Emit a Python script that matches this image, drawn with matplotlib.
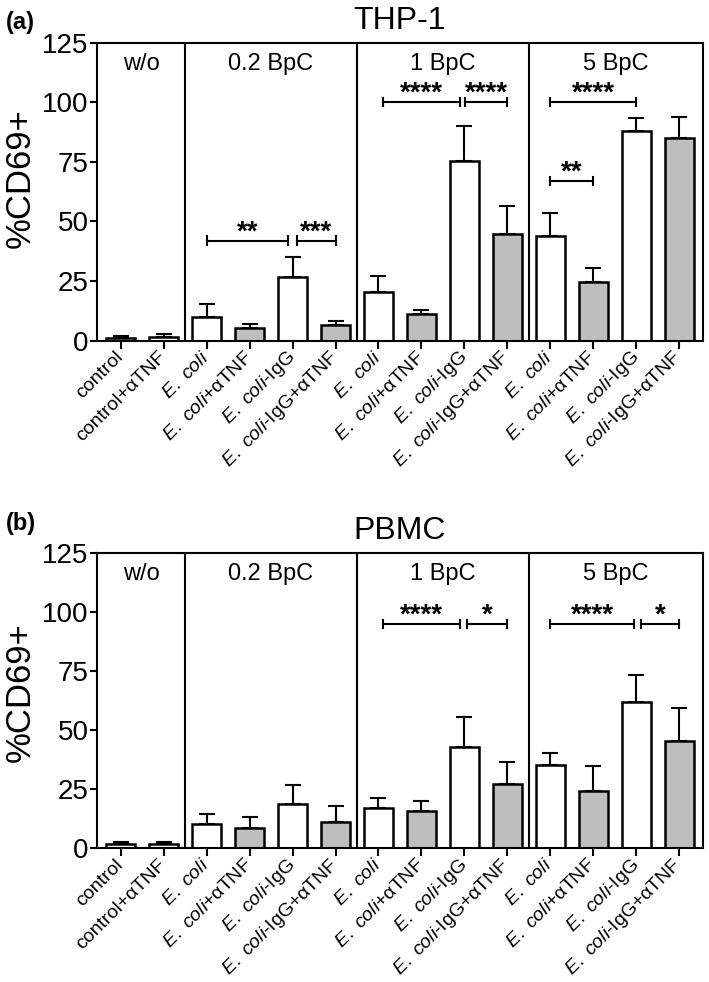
import matplotlib
matplotlib.use("Agg")
import matplotlib.pyplot as plt
import numpy as np

plt.rcParams['font.family'] = ['Liberation Sans', 'DejaVu Sans']
plt.rcParams['mathtext.fontset'] = 'custom'
plt.rcParams['mathtext.rm'] = 'Liberation Sans'
plt.rcParams['mathtext.it'] = 'Liberation Sans:italic'

# Data
EC = r"$\mathit{E.\ coli}$"
labels = ["control", "control+αTNF",
          EC, EC + "+αTNF", EC + "-IgG", EC + "-IgG+αTNF",
          EC, EC + "+αTNF", EC + "-IgG", EC + "-IgG+αTNF",
          EC, EC + "+αTNF", EC + "-IgG", EC + "-IgG+αTNF"]
fills = ["white", "white"] + ["white", "#bebebe"] * 6
sections = ["w/o", "0.2 BpC", "1 BpC", "5 BpC"]
section_bounds = [1.5, 5.5, 9.5]

thp1_mean = [1.2, 1.5, 9.8, 5.3, 26.7, 6.6, 20.3, 11.1, 75.4, 44.8, 43.9, 24.8, 87.8, 85.0]
thp1_err = [0.9, 1.2, 5.5, 1.8, 8.3, 1.7, 7.0, 1.7, 14.7, 11.6, 9.5, 5.6, 5.5, 8.7]
pbmc_mean = [1.7, 1.7, 10.1, 8.5, 18.9, 11.0, 17.2, 15.8, 42.8, 27.2, 35.4, 24.4, 61.7, 45.2]
pbmc_err = [1.1, 1.1, 4.4, 4.9, 7.7, 6.9, 3.9, 4.3, 12.6, 9.4, 5.0, 10.4, 11.7, 14.3]

# significance brackets: (x1, x2, y, stars)
thp1_sig = [(2, 3.9, 42, "**"), (4.1, 5, 42, "***"),
            (6.1, 7.9, 100, "****"), (8.02, 9, 100, "****"),
            (10, 12, 100, "****"), (10, 11, 67, "**")]
pbmc_sig = [(6.1, 7.9, 95, "****"), (8.05, 9, 95, "*"),
            (10, 11.95, 95, "****"), (12.1, 13, 95, "*")]

fig = plt.figure(figsize=(7.09, 9.82), dpi=100)
ax_a = fig.add_axes([0.1368, 0.6531, 0.8547, 0.3035])
ax_b = fig.add_axes([0.1368, 0.1361, 0.8547, 0.3011])


def draw(ax, mean, err, sig, title, label_y):
    x = np.arange(len(mean))
    ax.errorbar(x, mean, yerr=[np.zeros(len(err)), err], fmt="none",
                ecolor="black", elinewidth=1.5, capsize=6, capthick=1.5, zorder=1)
    ax.bar(x, mean, width=0.67, color=fills, edgecolor="black", linewidth=1.8, zorder=2)
    for b in section_bounds:
        ax.axvline(b, color="black", lw=1.5)
    centers = [0.5 * (-0.55 + 1.5), 3.5, 7.5, 0.5 * (9.5 + 13.55)]
    for c, s in zip(centers, sections):
        ax.text(c, 116, s, ha="center", va="center", fontsize=17)
    for x1, x2, y, s in sig:
        ax.plot([x1, x2], [y, y], color="black", lw=1.5)
        ax.plot([x1, x1], [y - 1.7, y + 1.7], color="black", lw=1.5)
        ax.plot([x2, x2], [y - 1.7, y + 1.7], color="black", lw=1.5)
        ax.text((x1 + x2) / 2, y - 2.0, s, ha="center", va="bottom",
                fontsize=20, fontweight="bold")
    ax.set_xlim(-0.55, 13.55)
    ax.set_ylim(0, 125)
    ax.set_yticks([0, 25, 50, 75, 100, 125])
    ax.set_xticks(x)
    ax.set_xticklabels(labels, rotation=45, ha="right", va="center",
                       rotation_mode="anchor", fontsize=14)
    ax.tick_params(axis="y", labelsize=20, length=5, width=1.5, pad=1)
    ax.tick_params(axis="x", length=6, width=1.5, pad=4)
    for sp in ax.spines.values():
        sp.set_linewidth(1.5)
    ax.set_ylabel("%CD69+", fontsize=25)
    ax.yaxis.set_label_coords(-0.099, label_y)
    ax.set_title(title, fontsize=23, pad=10)


draw(ax_a, thp1_mean, thp1_err, thp1_sig, "THP-1", 0.546)
draw(ax_b, pbmc_mean, pbmc_err, pbmc_sig, "PBMC", 0.529)

fig.text(0.008, 0.977, "(a)", fontsize=17, fontweight="bold", va="center")
fig.text(0.008, 0.467, "(b)", fontsize=17, fontweight="bold", va="center")

fig.savefig("out.png", dpi=100)
